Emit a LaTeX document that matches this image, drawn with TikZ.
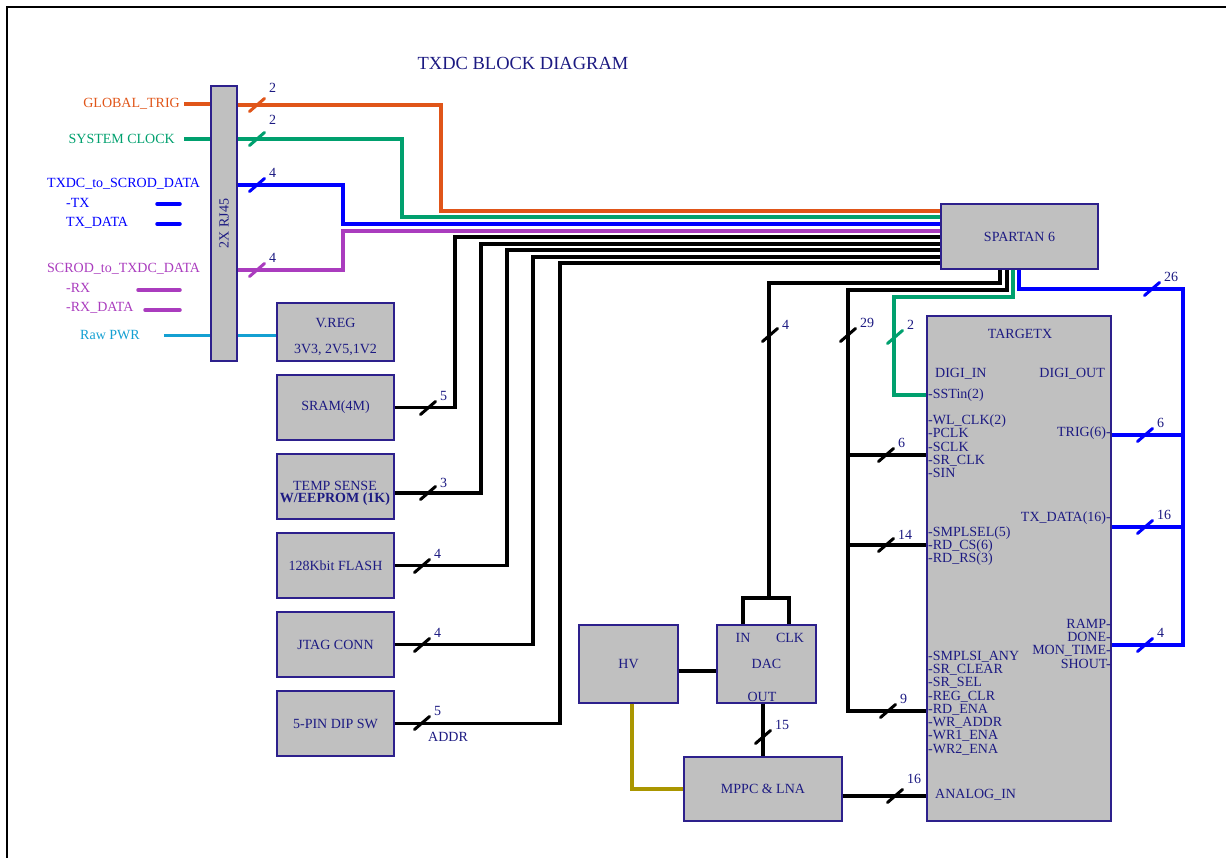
\documentclass[tikz,border=0pt]{standalone}
\usepackage{fontspec}
\setmainfont{Liberation Serif}
\usepackage{xcolor}

\definecolor{ink}{RGB}{28,26,130}
\definecolor{boxfill}{RGB}{192,192,192}
\definecolor{boxedge}{RGB}{45,32,140}
\definecolor{sigOrange}{RGB}{224,85,25}
\definecolor{sigGreen}{RGB}{0,160,110}
\definecolor{sigBlue}{RGB}{0,0,255}
\definecolor{sigPurple}{RGB}{170,60,190}
\definecolor{sigCyan}{RGB}{20,160,210}
\definecolor{sigOlive}{RGB}{170,150,0}

\newcommand{\txfont}{\fontsize{14}{14}\selectfont}
\newcommand{\pinfont}{\fontsize{14}{13.3}\selectfont}
\newcommand{\headfont}{\fontsize{18.5}{20}\selectfont}

% bus-width slash with its count; optional arg raises the count
\newcommand{\busmark}[5][0]{%
  \draw[#2, line width=3pt, line cap=round] (#3-7.5,#4+6.5) -- (#3+7.5,#4-6.5);
  \node[num, anchor=west] (bm#3x#4) at (#3+12,#4-12-#1) {#5};}

\begin{document}
\begin{tikzpicture}[x=1pt, y=-1pt,
  box/.style={draw=boxedge, fill=boxfill, line width=1.2pt, inner sep=0pt,
              align=center, text=ink, font=\txfont},
  lbl/.style={inner sep=0pt, text=ink, font=\txfont},
  pinlist/.style={inner sep=0pt, text=ink, font=\pinfont, align=left},
  heading/.style={inner sep=0pt, text=ink, font=\headfont},
  num/.style={inner sep=0pt, text=ink, font=\txfont},
  wire/.style={line width=3.5pt}
]
  \useasboundingbox (0,0) rectangle (1226,858);
  \draw[line width=1.2pt] (7,858) -- (7,7) -- (1226,7);

  \node[heading] (title) at (523,63) {TXDC BLOCK DIAGRAM};

  % left side signals
  \node[lbl, text=sigOrange, anchor=east] (gtrig)  at (180,104) {GLOBAL\_TRIG};
  \node[lbl, text=sigGreen,  anchor=east] (sysclk) at (175,139) {SYSTEM CLOCK};
  \node[lbl, text=sigBlue,   anchor=west] (txdc)   at (47,184)  {TXDC\_to\_SCROD\_DATA};
  \node[lbl, text=sigBlue,   anchor=west] (txsig)  at (66,203)  {-TX};
  \node[lbl, text=sigBlue,   anchor=west] (txdat)  at (66,223)  {TX\_DATA};
  \node[lbl, text=sigPurple, anchor=west] (scrod)  at (47,269)  {SCROD\_to\_TXDC\_DATA};
  \node[lbl, text=sigPurple, anchor=west] (rxsig)  at (66,288)  {-RX};
  \node[lbl, text=sigPurple, anchor=west] (rxdat)  at (66,308)  {-RX\_DATA};
  \node[lbl, text=sigCyan,   anchor=west] (rawpwr) at (80,335.5) {Raw PWR};

  \draw[wire, sigBlue,   line cap=round] (157,204) -- (180,204);
  \draw[wire, sigBlue,   line cap=round] (157,224) -- (180,224);
  \draw[wire, sigPurple, line cap=round] (138,290) -- (180,290);
  \draw[wire, sigPurple, line cap=round] (145,310) -- (180,310);

  % blocks
  \node[box, minimum width=26, minimum height=275] (rj) at (224,223.5) {};
  \node[lbl, rotate=90] (rjname) at (rj.center) {2X RJ45};
  \node[box, minimum width=117, minimum height=58] (vreg)  at (335.5,332)   {};
  \node[lbl, align=center] (vregtext) at (335.5,337) {V.REG\\[12pt]3V3, 2V5,1V2};
  \node[box, minimum width=117, minimum height=65] (sram)  at (335.5,407.5) {SRAM(4M)};
  \node[box, minimum width=117, minimum height=65] (temp)  at (335.5,486.5) {};
  \node[lbl, align=center, font=\fontsize{14}{12}\selectfont] (temptext) at (335,493)
       {TEMP SENSE\\\textbf{W/EEPROM (1K)}};
  \node[box, minimum width=117, minimum height=65] (flash) at (335.5,565.5) {128Kbit FLASH};
  \node[box, minimum width=117, minimum height=65] (jtag)  at (335.5,644.5) {JTAG CONN};
  \node[box, minimum width=117, minimum height=65] (dip)   at (335.5,723.5) {5-PIN DIP SW};
  \node[lbl, anchor=west] (addr) at (428,737) {ADDR};

  \node[box, minimum width=157, minimum height=65]  (spartan) at (1019.5,236.5) {SPARTAN 6};
  \node[box, minimum width=184, minimum height=505] (targetx) at (1019,568.5)   {};
  \node[lbl] (tgtname) at (1020,334) {TARGETX};
  \node[lbl, anchor=west] (digiin)  at (935,374)  {DIGI\_IN};
  \node[lbl, anchor=east] (digiout) at (1105,374) {DIGI\_OUT};
  \node[lbl, anchor=west] (sstin)   at (928,395)  {-SSTin(2)};
  \node[pinlist, anchor=west] (clkpins) at (928,446.5)
       {-WL\_CLK(2)\\-PCLK\\-SCLK\\-SR\_CLK\\-SIN};
  \node[pinlist, anchor=west] (selpins) at (928,546)
       {-SMPLSEL(5)\\-RD\_CS(6)\\-RD\_RS(3)};
  \node[pinlist, anchor=west] (ctlpins) at (928,703)
       {-SMPLSI\_ANY\\-SR\_CLEAR\\-SR\_SEL\\-REG\_CLR\\-RD\_ENA\\-WR\_ADDR\\-WR1\_ENA\\-WR2\_ENA};
  \node[lbl, anchor=west] (analogin) at (935,795) {ANALOG\_IN};
  \node[lbl, anchor=east] (trig)   at (1111,433) {TRIG(6)-};
  \node[lbl, anchor=east] (txdata) at (1111,518) {TX\_DATA(16)-};
  \node[pinlist, align=right, anchor=east] (monpins) at (1111,643.5)
       {RAMP-\\DONE-\\MON\_TIME-\\SHOUT-};

  \node[box, minimum width=99, minimum height=78]  (hv)   at (628.5,664) {HV};
  \node[box, minimum width=99, minimum height=78]  (dac)  at (766.5,664) {DAC};
  \node[lbl] (dacin)  at (743,638) {IN};
  \node[lbl] (dacclk) at (790,638) {CLK};
  \node[lbl] (dacout) at (762,697) {OUT};
  \node[box, minimum width=158, minimum height=64] (mppc) at (763,789) {MPPC \& LNA};

  % RJ45 to SPARTAN 6
  \draw[wire, sigOrange] ([xshift=4pt]gtrig.east) -- (gtrig.east -| rj.west);
  \draw[wire, sigOrange] (rj.east |- 0,105) -| (441,211) -- (spartan.west |- 0,211);
  \draw[wire, sigGreen]  ([xshift=9pt]sysclk.east) -- (sysclk.east -| rj.west);
  \draw[wire, sigGreen]  (rj.east |- 0,139) -| (402,217) -- (spartan.west |- 0,217);
  \draw[wire, sigBlue]   (rj.east |- 0,185) -| (343,224) -- (spartan.west |- 0,224);
  \draw[wire, sigPurple] (rj.east |- 0,270) -| (343,231) -- (spartan.west |- 0,231);
  \draw[wire, sigCyan]   ([xshift=24pt]rawpwr.east) -- (rawpwr.east -| rj.west);
  \draw[wire, sigCyan]   (rawpwr.east -| rj.east) -- (rawpwr.east -| vreg.west);

  % memories to SPARTAN 6
  \draw[wire] (sram.east) -| (455,237) -- (spartan.west |- 0,237);
  \draw[wire] (temp.east |- 0,493) -| (481,244) -- (spartan.west |- 0,244);
  \draw[wire] (flash.east) -| (507,250) -- (spartan.west |- 0,250);
  \draw[wire] (jtag.east) -| (533,257) -- (spartan.west |- 0,257);
  \draw[wire] (dip.east) -| (560,263) -- (spartan.west |- 0,263);

  % SPARTAN 6 to DAC and TARGETX
  \draw[wire] (spartan.south -| 1000,0) |- (769,283) -- (769,598);
  \draw[wire] (dac.north -| 743,0) |- (789,598) -- (dac.north -| 789,0);
  \draw[wire] (spartan.south -| 1007,0) |- (848,290) -- (848,711) -- (targetx.west |- 0,711);
  \draw[wire] (848,455) -- (targetx.west |- 0,455);
  \draw[wire] (848,545) -- (targetx.west |- 0,545);
  \draw[wire, sigGreen] (spartan.south -| 1013,0) |- (894,297) -- (894,395) -- (targetx.west |- 0,395);
  \draw[wire, sigBlue] (spartan.south -| 1019,0) |- (1183,289) -- (1183,645) -- (targetx.east |- 0,645);
  \draw[wire, sigBlue] (targetx.east |- 0,435) -- (1183,435);
  \draw[wire, sigBlue] (targetx.east |- 0,527) -- (1183,527);

  % analog chain
  \draw[wire] (hv.east |- 0,671) -- (dac.west |- 0,671);
  \draw[wire] (dac.south -| 763,0) -- (mppc.north -| 763,0);
  \draw[wire, sigOlive] (hv.south -| 632,0) |- (mppc.west |- 0,789);
  \draw[wire] (mppc.east |- 0,796) -- (targetx.west |- 0,796);

  % bus widths
  \busmark[5]{sigOrange}{257}{105}{2}
  \busmark[7]{sigGreen}{257}{139}{2}
  \busmark{sigBlue}{257}{185}{4}
  \busmark{sigPurple}{257}{270}{4}
  \busmark{black}{428}{408}{5}
  \busmark[-2]{black}{428}{493}{3}
  \busmark{black}{422}{566}{4}
  \busmark{black}{422}{645}{4}
  \busmark{black}{422}{723}{5}
  \busmark[-2]{black}{770}{335}{4}
  \busmark{black}{848}{335}{29}
  \busmark{sigGreen}{895}{337}{2}
  \busmark{sigBlue}{1152}{289}{26}
  \busmark{black}{886}{455}{6}
  \busmark[-2]{black}{886}{545}{14}
  \busmark{black}{888}{711}{9}
  \busmark{sigBlue}{1145}{435}{6}
  \busmark{sigBlue}{1145}{527}{16}
  \busmark{sigBlue}{1145}{645}{4}
  \busmark{black}{763}{737}{15}
  \busmark[5]{black}{895}{796}{16}
\end{tikzpicture}
\end{document}
